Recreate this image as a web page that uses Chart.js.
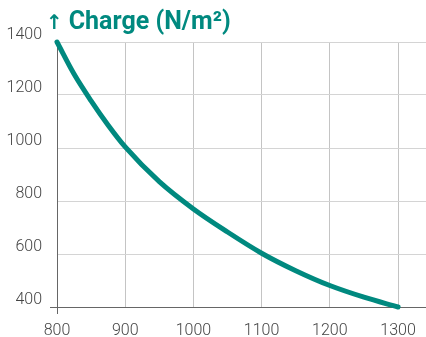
<!DOCTYPE html>
<html>
<head>
<meta charset="utf-8">
<script src="https://cdn.jsdelivr.net/npm/chart.js@4"></script>
<style>
  html, body { margin: 0; padding: 0; background: #fff; }
  #wrap { position: relative; width: 426px; height: 337px; }
  #title { position: absolute; left: 46px; top: 8px; font: bold 25px Roboto, sans-serif; color: #00897f; white-space: nowrap; line-height: 1; }
  #title .arr { font-family: "DejaVu Sans", sans-serif; font-weight: bold; font-size: 20px; margin-right: 6px; }
</style>
</head>
<body>
<div id="wrap">
  <canvas id="c" width="426" height="337"></canvas>
  <div id="title"><span class="arr">↑</span>Charge (N/m²)</div>
</div>
<script>
const spans = [800, 825, 850, 875, 900, 950, 1000, 1050, 1100, 1150, 1200, 1250, 1300];
const charges = [1400, 1279, 1178, 1086, 1004, 873, 770, 683, 603, 537, 481, 437, 400];
const xTicks = [800, 900, 1000, 1100, 1200, 1300];
const yTicks = [400, 600, 800, 1000, 1200, 1400];

const teal = '#00897f';
const points = spans.map((s, i) => ({ x: s, y: charges[i] }));
const tickFont = { family: 'Roboto', size: 16, weight: '300' };

new Chart(document.getElementById('c'), {
  type: 'line',
  data: { datasets: [{ data: points, borderColor: teal, borderWidth: 5, pointRadius: 0, cubicInterpolationMode: 'monotone', borderCapStyle: 'round', clip: false }] },
  options: {
    responsive: false, animation: false,
    layout: { padding: { top: 42, left: 0, right: 0, bottom: 0 } },
    plugins: { legend: { display: false }, tooltip: { enabled: false }, title: { display: false } },
    scales: {
      x: {
        type: 'linear', min: 800, max: 1341,
        afterBuildTicks: s => { s.ticks = xTicks.map(v => ({ value: v })); },
        afterFit: s => { s.height = 30; },
        grid: { color: '#c4c4c4', lineWidth: 1, tickLength: 7, tickColor: c => c.tick && c.tick.value === 800 ? '#666' : 'rgba(0,0,0,0)' },
        border: { color: '#666', width: 1 },
        ticks: { color: '#444', font: tickFont, padding: 7, maxRotation: 0, autoSkip: false, callback: v => String(v) }
      },
      y: {
        type: 'linear', min: 400, max: 1400,
        afterBuildTicks: s => { s.ticks = yTicks.map(v => ({ value: v })); },
        afterFit: s => { s.width = 57; },
        grid: { color: '#d4d4d4', lineWidth: 1, tickLength: 7, tickColor: c => c.tick && c.tick.value === 400 ? '#666' : 'rgba(0,0,0,0)' },
        border: { color: '#666', width: 1 },
        ticks: { color: '#444', font: tickFont, padding: 8, labelOffset: -7, autoSkip: false, callback: v => String(v) }
      }
    }
  }
});
</script>
</body>
</html>
